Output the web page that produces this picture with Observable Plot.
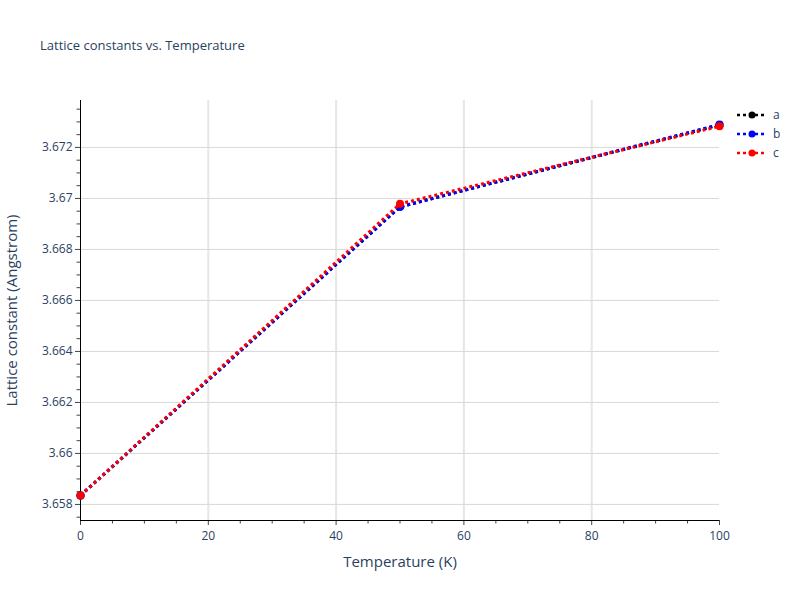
<!DOCTYPE html>
<html>
<head>
<meta charset="utf-8">
<script src="https://cdn.jsdelivr.net/npm/d3@7"></script>
<script src="https://cdn.jsdelivr.net/npm/@observablehq/plot@0.6"></script>
<style>
  html, body { margin: 0; padding: 0; background: #fff; }
  #wrap { position: relative; width: 800px; height: 600px; font-family: "Open Sans", sans-serif; color: #2a3f5f; }
  #title { position: absolute; left: 40px; top: 36px; font-size: 13px; white-space: nowrap; }
  #legend { position: absolute; left: 730px; top: 105px; }
</style>
</head>
<body>
<div id="wrap">
  <div id="chart"></div>
  <div id="title">Lattice constants vs. Temperature</div>
  <div id="legend"></div>
</div>
<script>
const temperature = [0, 50, 100];
const seriesNames = ["a", "b", "c"];
const seriesColors = ["#000000", "#0000ff", "#ff0000"];
const aValues = [3.65835, 3.66967, 3.67288];
const bValues = [3.65835, 3.66967, 3.67290];
const cValues = [3.65835, 3.66979, 3.67283];
const xDomain = [0, 100];
const yDomain = [3.65737, 3.67384];
const xMajorTicks = [0, 20, 40, 60, 80, 100];
const xGridTicks = [20, 40, 60, 80];
const xMinorTicks = [5, 10, 15, 25, 30, 35, 45, 50, 55, 65, 70, 75, 85, 90, 95];
const yMajorTicks = [3.658, 3.66, 3.662, 3.664, 3.666, 3.668, 3.67, 3.672];
const yMinorTicks = [3.6575, 3.6585, 3.659, 3.6595, 3.6605, 3.661, 3.6615, 3.6625, 3.663, 3.6635,
  3.6645, 3.665, 3.6655, 3.6665, 3.667, 3.6675, 3.6685, 3.669, 3.6695, 3.6705, 3.671, 3.6715,
  3.6725, 3.673, 3.6735];
const xLabel = "Temperature (K)";
const yLabel = "Lattice constant (Angstrom)";

const allValues = [aValues, bValues, cValues];
const series = seriesNames.map((name, i) => ({
  name, color: seriesColors[i],
  data: temperature.map((t, j) => ({ t, v: allValues[i][j] }))
}));

const marks = [
  Plot.gridX(xGridTicks, { stroke: "#e6e6e6", strokeOpacity: 1, strokeWidth: 2 }),
  Plot.gridY(yMajorTicks, { stroke: "#d9d9d9", strokeOpacity: 1, strokeWidth: 1 }),
  Plot.axisX(xMajorTicks, { tickSize: 5, tickPadding: 6, fontSize: 12, fill: "#2a3f5f", stroke: "#444",
    label: xLabel, labelAnchor: "center", labelArrow: "none", labelOffset: 46 }),
  Plot.axisX(xMinorTicks, { tickSize: 3.5, stroke: "#444", text: null, label: null }),
  Plot.axisY(yMajorTicks, { tickSize: 5, tickPadding: 3, fontSize: 12, fill: "#2a3f5f", stroke: "#444",
    tickFormat: d => String(+d.toFixed(3)),
    label: yLabel, labelAnchor: "center", labelArrow: "none", labelOffset: 74 }),
  Plot.axisY(yMinorTicks, { tickSize: 3.5, stroke: "#444", text: null, label: null }),
  Plot.ruleX([xDomain[0]], { stroke: "#000", strokeWidth: 1 }),
  Plot.ruleY([yDomain[0]], { stroke: "#000", strokeWidth: 1 })
];
for (const s of series) {
  marks.push(Plot.line(s.data, { x: "t", y: "v", stroke: s.color, strokeWidth: 3,
    strokeDasharray: "3,3", strokeLinecap: "butt", strokeLinejoin: "miter" }));
  marks.push(Plot.dot(s.data, { x: "t", y: "v", fill: s.color, r: 4, stroke: "none" }));
}

const chart = Plot.plot({
  width: 800, height: 600,
  marginLeft: 80, marginRight: 81, marginTop: 100, marginBottom: 80,
  style: { fontFamily: "Open Sans, sans-serif", fontSize: "12px", color: "#2a3f5f", background: "#fff" },
  x: { domain: xDomain, axis: null },
  y: { domain: yDomain, axis: null },
  marks
});
chart.querySelectorAll("text").forEach(el => {
  if (el.textContent === xLabel || el.textContent === yLabel) el.setAttribute("font-size", "15");
});
document.getElementById("chart").appendChild(chart);

// legend
const lg = d3.select("#legend").append("svg").attr("width", 70).attr("height", 64);
series.forEach((s, i) => {
  const g = lg.append("g").attr("transform", `translate(0,${10 + i * 19})`);
  g.append("line").attr("x1", 7).attr("x2", 37).attr("y1", 0).attr("y2", 0)
    .attr("stroke", s.color).attr("stroke-width", 2.5).attr("stroke-dasharray", "3,3");
  g.append("circle").attr("cx", 22).attr("cy", 0).attr("r", 3.5).attr("fill", s.color);
  g.append("text").attr("x", 43).attr("y", 0).attr("dy", "0.35em")
    .attr("font-family", "Open Sans, sans-serif").attr("font-size", 12).attr("fill", "#2a3f5f").text(s.name);
});
</script>
</body>
</html>
